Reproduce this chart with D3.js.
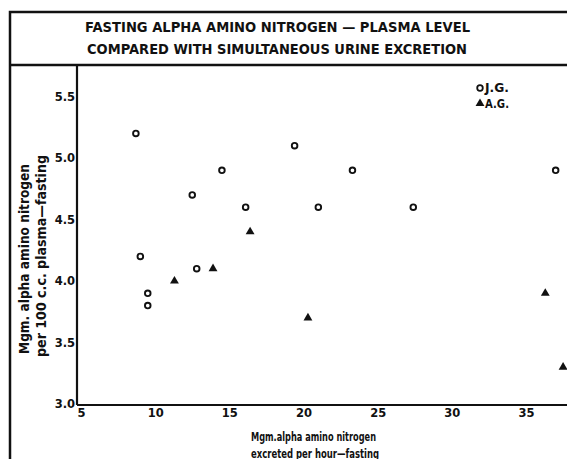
<!DOCTYPE html>
<html>
<head>
<meta charset="utf-8">
<script src="https://cdn.jsdelivr.net/npm/d3@7"></script>
<style>
  body { margin: 0; background: #fff; }
  svg { display: block; }
  text { font-family: "DejaVu Sans", sans-serif; font-weight: bold; fill: #111; }
  .xlabel { font-family: "Liberation Sans Narrow", "DejaVu Sans Condensed", "DejaVu Sans", sans-serif; }
</style>
</head>
<body>
<div id="chart"></div>
<script>
// J.G. (open circles)
const jgX = [8.7, 19.4, 14.5, 12.5, 16.1, 21.0, 23.3, 27.4, 37.0, 9.0, 12.8, 9.5, 9.5];
const jgY = [5.2, 5.1, 4.9, 4.7, 4.6, 4.6, 4.9, 4.6, 4.9, 4.2, 4.1, 3.9, 3.8];
// A.G. (filled triangles)
const agX = [16.4, 13.9, 11.3, 20.3, 36.3, 37.5];
const agY = [4.4, 4.1, 4.0, 3.7, 3.9, 3.3];

const xTicks = [5, 10, 15, 20, 25, 30, 35];
const yTicks = [3.0, 3.5, 4.0, 4.5, 5.0, 5.5];

const titleLines = ['FASTING  ALPHA  AMINO NITROGEN — PLASMA  LEVEL',
                    'COMPARED WITH SIMULTANEOUS URINE EXCRETION'];
const xLabelLines = ['Mgm.alpha amino nitrogen', 'excreted per hour—fasting'];
const yLabelLines = ['Mgm. alpha amino nitrogen', 'per 100 c.c. plasma—fasting'];
const legendNames = ['J.G.', 'A.G.'];

const width = 567, height = 459;
const axisLeft = 77, axisBottom = 405, plotTop = 65;

const x = d3.scaleLinear().domain([5, 35]).range([81, 526]);
const y = d3.scaleLinear().domain([3, 5.5]).range([404, 96.5]);

const svg = d3.select('#chart').append('svg')
    .attr('width', width)
    .attr('height', height);

// outer frame (runs off the right and bottom of the picture)
svg.append('rect')
    .attr('x', 10).attr('y', 12)
    .attr('width', 620).attr('height', 520)
    .attr('fill', 'none')
    .attr('stroke', '#111')
    .attr('stroke-width', 2.5);

svg.append('line')
    .attr('x1', 10).attr('x2', width + 10)
    .attr('y1', plotTop).attr('y2', plotTop)
    .attr('stroke', '#111').attr('stroke-width', 2.5);

// title
svg.selectAll('.title')
    .data(titleLines)
    .enter().append('text')
    .attr('class', 'title')
    .attr('x', (d, i) => i === 0 ? 85 : 87)
    .attr('y', (d, i) => i === 0 ? 32 : 54)
    .attr('font-size', 13.5)
    .attr('textLength', (d, i) => i === 0 ? 385 : 380)
    .attr('lengthAdjust', 'spacingAndGlyphs')
    .text(d => d);

// axes lines
svg.append('line')
    .attr('x1', axisLeft).attr('x2', axisLeft)
    .attr('y1', plotTop).attr('y2', axisBottom)
    .attr('stroke', '#111').attr('stroke-width', 2.2);
svg.append('line')
    .attr('x1', axisLeft).attr('x2', width + 10)
    .attr('y1', axisBottom).attr('y2', axisBottom)
    .attr('stroke', '#111').attr('stroke-width', 2.2);

// x axis ticks
const xAxis = d3.axisBottom(x)
    .tickValues(xTicks)
    .tickSize(0)
    .tickPadding(4)
    .tickFormat(d3.format('d'));
const gx = svg.append('g')
    .attr('transform', `translate(0,${axisBottom})`)
    .call(xAxis);
gx.select('.domain').remove();
gx.selectAll('text')
    .attr('font-size', 11.5)
    .attr('font-family', '"DejaVu Sans", sans-serif')
    .attr('fill', '#111');

// y axis ticks
const yAxis = d3.axisLeft(y)
    .tickValues(yTicks)
    .tickSize(0)
    .tickPadding(2)
    .tickFormat(d3.format('.1f'));
const gy = svg.append('g')
    .attr('transform', `translate(${axisLeft},0)`)
    .call(yAxis);
gy.select('.domain').remove();
gy.selectAll('text')
    .attr('font-size', 11.5)
    .attr('font-family', '"DejaVu Sans", sans-serif')
    .attr('fill', '#111');

// x axis title
svg.selectAll('.xlabel')
    .data(xLabelLines)
    .enter().append('text')
    .attr('class', 'xlabel')
    .attr('x', 251)
    .attr('y', (d, i) => 441 + i * 16.5)
    .attr('font-size', 13)
    .attr('textLength', (d, i) => i === 0 ? 125 : 128)
    .attr('lengthAdjust', 'spacingAndGlyphs')
    .text(d => d);

// y axis title
svg.selectAll('.ylabel')
    .data(yLabelLines)
    .enter().append('text')
    .attr('class', 'ylabel')
    .attr('text-anchor', 'middle')
    .attr('transform', (d, i) => `translate(${i === 0 ? 29 : 46},${i === 0 ? 259 : 256}) rotate(-90)`)
    .attr('font-size', 13.5)
    .attr('textLength', (d, i) => i === 0 ? 190 : 202)
    .attr('lengthAdjust', 'spacingAndGlyphs')
    .text(d => d);

// points
const jg = jgX.map((v, i) => ({x: v, y: jgY[i]}));
const ag = agX.map((v, i) => ({x: v, y: agY[i]}));

svg.selectAll('.jg')
    .data(jg)
    .enter().append('circle')
    .attr('class', 'jg')
    .attr('cx', d => x(d.x))
    .attr('cy', d => y(d.y))
    .attr('r', 2.8)
    .attr('fill', 'none')
    .attr('stroke', '#111')
    .attr('stroke-width', 1.9);

const tri = d3.symbol().type(d3.symbolTriangle).size(34);
svg.selectAll('.ag')
    .data(ag)
    .enter().append('path')
    .attr('class', 'ag')
    .attr('d', tri)
    .attr('transform', d => `translate(${x(d.x)},${y(d.y)})`)
    .attr('fill', '#111');

// legend
svg.append('circle')
    .attr('cx', 480).attr('cy', 88)
    .attr('r', 2.8)
    .attr('fill', 'none')
    .attr('stroke', '#111')
    .attr('stroke-width', 1.8);
svg.append('path')
    .attr('d', tri)
    .attr('transform', 'translate(480,103.5)')
    .attr('fill', '#111');
svg.selectAll('.legend')
    .data(legendNames)
    .enter().append('text')
    .attr('class', 'legend')
    .attr('x', 485)
    .attr('y', (d, i) => 92 + i * 15.5)
    .attr('font-size', 11.5)
    .attr('textLength', 24)
    .attr('lengthAdjust', 'spacingAndGlyphs')
    .text(d => d);
</script>
</body>
</html>
